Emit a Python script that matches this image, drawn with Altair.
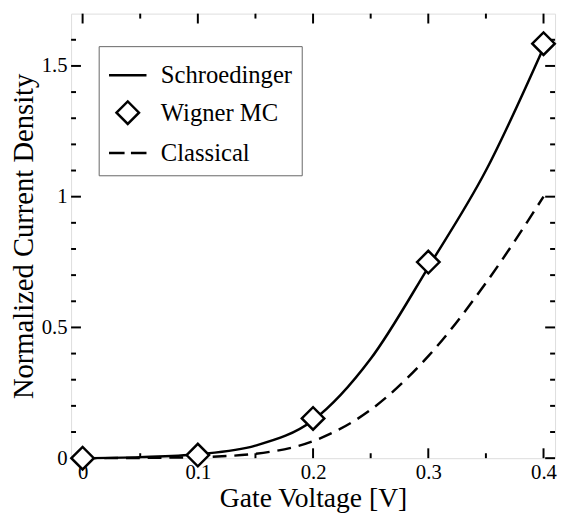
import altair as alt
import pandas as pd

# ---- data ----
x_grid = [0.0, 0.05, 0.1, 0.15, 0.2, 0.25, 0.3, 0.35, 0.4]
schroedinger = [0.0, 0.004, 0.015, 0.048, 0.145, 0.38, 0.73, 1.10, 1.57]
classical = [0.0, 0.001, 0.004, 0.017, 0.065, 0.185, 0.39, 0.67, 1.0]
wigner_x = [0.0, 0.1, 0.2, 0.3, 0.4]
wigner_y = [0.0, 0.012, 0.152, 0.75, 1.585]
series_names = ["Schroedinger", "Wigner MC", "Classical"]

x_major = [0.0, 0.1, 0.2, 0.3, 0.4]
x_minor = [0.05, 0.15, 0.25, 0.35]
y_major = [0.0, 0.5, 1.0, 1.5]
y_minor = [0.1, 0.2, 0.3, 0.4, 0.6, 0.7, 0.8, 0.9, 1.1, 1.2, 1.3, 1.4, 1.6]

W, H = 491, 451
FONT = "Liberation Serif"
LW = 2.5

xs = alt.Scale(domain=[-0.01, 0.41], nice=False, zero=False)
ys = alt.Scale(domain=[0, 1.7], nice=False, zero=False)

x_axis = alt.Axis(values=x_major, format="~g", title="Gate Voltage [V]",
                  ticks=False, domain=False, grid=False,
                  labelFont=FONT, labelFontSize=21, labelColor="black",
                  labelPadding=4, titleFont=FONT, titleFontSize=28,
                  titleFontWeight="normal", titleColor="black", titlePadding=2)
y_axis = alt.Axis(values=y_major, format="~g", title="Normalized Current Density",
                  ticks=False, domain=False, grid=False,
                  labelFont=FONT, labelFontSize=21, labelColor="black",
                  labelPadding=4, titleFont=FONT, titleFontSize=29,
                  titleFontWeight="normal", titleColor="black", titlePadding=3)

df_s = pd.DataFrame({"x": x_grid, "y": schroedinger, "series": "Schroedinger"})
df_c = pd.DataFrame({"x": x_grid, "y": classical, "series": "Classical"})
df_w = pd.DataFrame({"x": wigner_x, "y": wigner_y, "series": "Wigner MC"})

X = alt.X("x:Q", scale=xs, axis=x_axis)
Y = alt.Y("y:Q", scale=ys, axis=y_axis)

line_s = alt.Chart(df_s).mark_line(color="black", strokeWidth=LW,
                                   interpolate="monotone").encode(x=X, y=Y)
line_c = alt.Chart(df_c).mark_line(color="black", strokeWidth=LW, strokeDash=[14, 8],
                                   interpolate="monotone").encode(x=X, y=Y)

shape_scale = alt.Scale(
    domain=series_names,
    range=["M-1,0L1,0", "M-0.6,0L0,-0.6L0.6,0L0,0.6Z", "M-1,0L-0.17,0M0.17,0L1,0"],
)
color_scale = alt.Scale(domain=series_names, range=["black", "black", "black"])
legend = alt.Legend(
    title=None, orient="none", legendX=28, legendY=33,
    strokeColor="#666666", fillColor="white", padding=9,
    labelFont=FONT, labelFontSize=25, labelColor="black", labelOffset=13,
    symbolSize=1444, symbolStrokeWidth=LW, symbolOpacity=1, rowPadding=4,
)
points = alt.Chart(df_w).mark_point(
    filled=False, fill="white", fillOpacity=1, strokeWidth=LW, size=1444, opacity=1
).encode(
    x=X, y=Y,
    shape=alt.Shape("series:N", scale=shape_scale, legend=legend),
    color=alt.Color("series:N", scale=color_scale, legend=legend),
)

# inward tick marks on all four sides
xt_major = pd.DataFrame({"x": x_major})
xt_minor = pd.DataFrame({"x": x_minor})
yt_major = pd.DataFrame({"y": y_major})
yt_minor = pd.DataFrame({"y": y_minor})

def xticks(df, length):
    bot = alt.Chart(df).mark_rule(color="black", strokeWidth=2).encode(
        x=X, y=alt.value(H), y2=alt.value(H - length))
    top = alt.Chart(df).mark_rule(color="black", strokeWidth=2).encode(
        x=X, y=alt.value(0), y2=alt.value(length))
    return [bot, top]

def yticks(df, length):
    left = alt.Chart(df).mark_rule(color="black", strokeWidth=2).encode(
        y=Y, x=alt.value(0), x2=alt.value(length))
    right = alt.Chart(df).mark_rule(color="black", strokeWidth=2).encode(
        y=Y, x=alt.value(W), x2=alt.value(W - length))
    return [left, right]

tick_layers = xticks(xt_major, 10) + xticks(xt_minor, 5) + yticks(yt_major, 10) + yticks(yt_minor, 5)

chart = alt.layer(*tick_layers, line_c, line_s, points).properties(
    width=W, height=H,
    autosize=alt.AutoSizeParams(type="none"),
    padding={"left": 64, "top": 2, "right": 3, "bottom": 58},
).configure_view(stroke="black", strokeWidth=LW).configure(background="white")

chart.save("out.html", embed_options={"renderer": "svg", "actions": False})
